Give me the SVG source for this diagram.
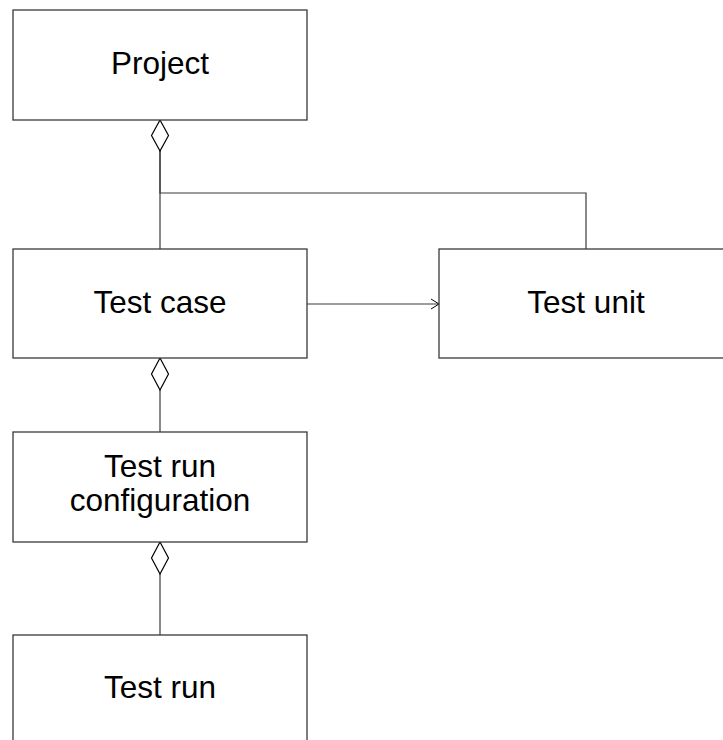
<svg xmlns="http://www.w3.org/2000/svg" width="723" height="740" viewBox="0 0 723 740">
<style>
.box{fill:#fff;stroke:#3a3a3a;stroke-width:1.3}
.lbl{font-family:"Liberation Sans",Arial,sans-serif;font-size:31.5px;fill:#000;text-anchor:middle}
.ln{fill:none;stroke:#3a3a3a;stroke-width:1.2}
.dia{fill:#fff;stroke:#000;stroke-width:1.2}
</style>
<defs>
<marker id="open" markerWidth="10" markerHeight="12" refX="9" refY="6" orient="auto" markerUnits="userSpaceOnUse">
<path d="M1,1 L9,6 L1,11" fill="none" stroke="#000" stroke-width="1"/>
</marker>
</defs>
<g id="connectors">
<path class="ln" d="M160,249 V151"/>
<path class="ln" d="M586,249 V193 H160 V151"/>
<path class="ln" d="M307,304 H439" marker-end="url(#open)"/>
<path class="ln" d="M160,432 V390"/>
<path class="ln" d="M160,635 V574"/>
<polygon class="dia" points="160,120 168.5,135.5 160,151 151.5,135.5"/>
<polygon class="dia" points="160,358 168.5,374 160,390 151.5,374"/>
<polygon class="dia" points="160,542 168.5,558 160,574 151.5,558"/>
</g>
<g id="project">
<rect class="box" x="13" y="10" width="294" height="110"/>
<text class="lbl" x="160" y="74">Project</text>
</g>
<g id="testcase">
<rect class="box" x="13" y="249" width="294" height="109"/>
<text class="lbl" x="160" y="313">Test case</text>
</g>
<g id="testunit">
<rect class="box" x="439" y="249" width="294" height="109"/>
<text class="lbl" x="586" y="313">Test unit</text>
</g>
<g id="testrunconfig">
<rect class="box" x="13" y="432" width="294" height="110"/>
<text class="lbl" x="160" y="477">Test run</text>
<text class="lbl" x="160" y="511">configuration</text>
</g>
<g id="testrun">
<rect class="box" x="13" y="635" width="294" height="110"/>
<text class="lbl" x="160" y="698">Test run</text>
</g>
</svg>
